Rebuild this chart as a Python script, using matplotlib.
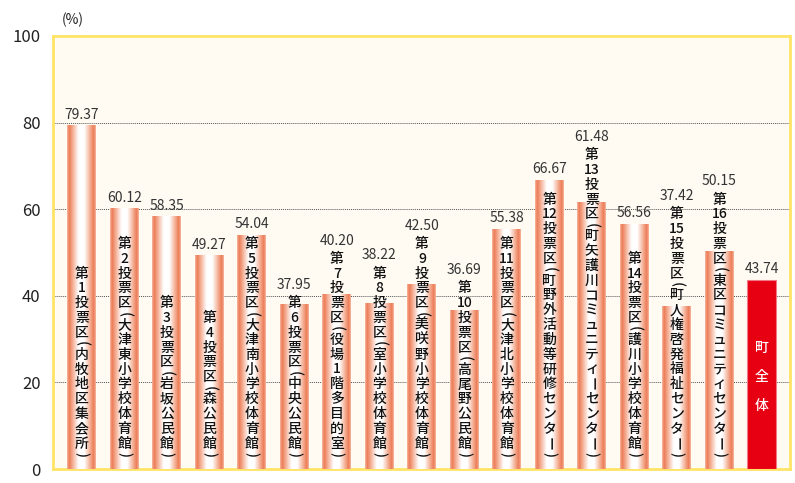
import matplotlib
matplotlib.use("Agg")
import matplotlib.pyplot as plt
import numpy as np
from matplotlib.colors import LinearSegmentedColormap

plt.rcParams['font.family'] = ['Noto Sans CJK JP', 'DejaVu Sans']

# データ
labels = [
    "第,1,投,票,区,(,内,牧,地,区,集,会,所,)",
    "第,2,投,票,区,(,大,津,東,小,学,校,体,育,館,)",
    "第,3,投,票,区,(,岩,坂,公,民,館,)",
    "第,4,投,票,区,(,森,公,民,館,)",
    "第,5,投,票,区,(,大,津,南,小,学,校,体,育,館,)",
    "第,6,投,票,区,(,中,央,公,民,館,)",
    "第,7,投,票,区,(,役,場,1,階,多,目,的,室,)",
    "第,8,投,票,区,(,室,小,学,校,体,育,館,)",
    "第,9,投,票,区,(,美,咲,野,小,学,校,体,育,館,)",
    "第,10,投,票,区,(,高,尾,野,公,民,館,)",
    "第,11,投,票,区,(,大,津,北,小,学,校,体,育,館,)",
    "第,12,投,票,区,(,町,野,外,活,動,等,研,修,セ,ン,タ,ー,)",
    "第,13,投,票,区,(,町,矢,護,川,コ,ミ,ュ,ニ,テ,ィ,ー,セ,ン,タ,ー,)",
    "第,14,投,票,区,(,護,川,小,学,校,体,育,館,)",
    "第,15,投,票,区,(,町,人,権,啓,発,福,祉,セ,ン,タ,ー,)",
    "第,16,投,票,区,(,東,区,コ,ミ,ュ,ニ,テ,ィ,セ,ン,タ,ー,)",
    "町,全,体",
]
values = [79.37, 60.12, 58.35, 49.27, 54.04, 37.95, 40.20, 38.22, 42.50,
          36.69, 55.38, 66.67, 61.48, 56.56, 37.42, 50.15, 43.74]
yticks = [0, 20, 40, 60, 80, 100]

fig = plt.figure(figsize=(7.95, 4.83), dpi=100)
ax = fig.add_axes([53 / 795, 14 / 483, 737 / 795, 433 / 483])
ax.set_facecolor("#FFFBF3")

x = np.arange(len(values))
bars = ax.bar(x, values, width=0.68, color="none", edgecolor="none", zorder=2)

grad = LinearSegmentedColormap.from_list("g", [
    (0.0, "#F6B69C"), (0.07, "#EC7A56"), (0.18, "#F3A98C"), (0.4, "#FFFFFF"),
    (0.6, "#FFFFFF"), (0.82, "#F3A98C"), (0.93, "#EC7A56"), (1.0, "#F6B69C")])
g = np.linspace(0, 1, 64).reshape(1, -1)

for i, b in enumerate(bars):
    x0, w, h = b.get_x(), b.get_width(), b.get_height()
    if i == len(bars) - 1:
        ax.bar(b.get_x() + w / 2, h, width=w, color="#E60012",
               edgecolor="#F27A86", linewidth=0.8, zorder=3)
    else:
        ax.imshow(g, cmap=grad, extent=[x0, x0 + w, 0, h], aspect="auto",
                  interpolation="bilinear", zorder=3)

ax.set_xlim(-0.68, len(values) - 1 + 0.66)
ax.set_ylim(0, 100)

# 縦書きラベル
step = 3.42
half = 1.62
for i, lab in enumerate(labels):
    toks = lab.split(",")
    if i == len(labels) - 1:
        mid = values[i] * 0.485
        for k, t in enumerate(toks):
            ax.text(x[i], mid + (1 - k) * 6.7, t, ha="center", va="center",
                    fontsize=10, color="white", fontweight="medium", zorder=5)
        top = values[i]
    else:
        y = 2.55
        for t in reversed(toks):
            hh = half if t in "()" else step
            rot = -90 if t in "()ー" else 0
            ax.text(x[i], y + hh / 2, t, ha="center", va="center", rotation=rot,
                    fontsize=10, color="#111111", fontweight="medium", zorder=5)
            y += hh
        top = max(values[i], y)
    ax.text(x[i], top + 2.5, f"{values[i]:.2f}", ha="center", va="center",
            fontsize=10, color="#333333", zorder=5)

# 目盛り・罫線
ax.set_yticks(yticks)
ax.set_yticklabels([str(v) for v in yticks], fontsize=12, color="#222222")
ax.tick_params(axis="y", length=0, pad=9)
ax.set_xticks([])
for v in yticks[1:-1]:
    ax.axhline(v, color="#555555", linestyle=(0, (1, 1)), linewidth=0.7, zorder=1)
for s in ax.spines.values():
    s.set_color("#FFE466")
    s.set_linewidth(2)

fig.text(73 / 795, 1 - 20 / 483, "(%)", ha="center", va="center", fontsize=10, color="#222222")

fig.savefig("out.png", dpi=100)
